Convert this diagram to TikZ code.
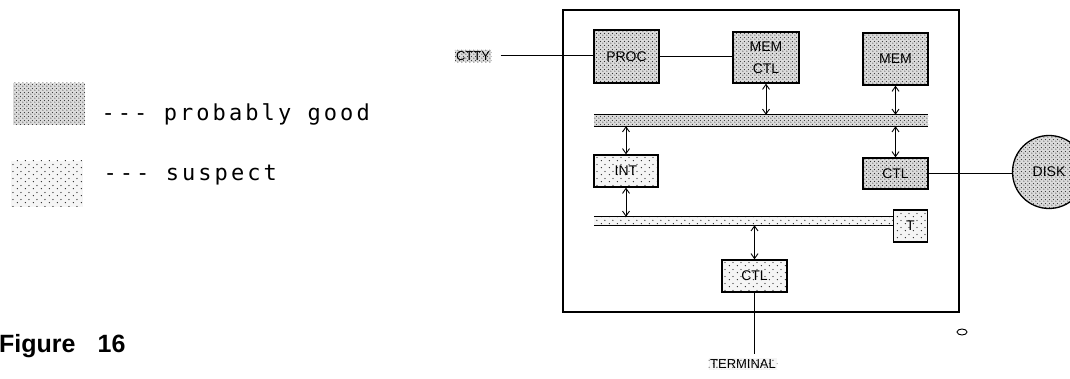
\documentclass[tikz,border=0pt]{standalone}
\usepackage{fontspec}
\setmainfont{Liberation Sans}
\newfontfamily\legendfont{DejaVu Sans Mono}[LetterSpace=14,Ligatures=TeXOff]
\usetikzlibrary{patterns,arrows.meta}
\pgfdeclarepatternformonly{densedots}{\pgfqpoint{0pt}{0pt}}{\pgfqpoint{3.6pt}{3.6pt}}{\pgfqpoint{3.6pt}{3.6pt}}{%
 \pgfpathcircle{\pgfqpoint{0.9pt}{0.9pt}}{0.62pt}%
 \pgfpathcircle{\pgfqpoint{2.7pt}{2.7pt}}{0.62pt}%
 \pgfusepath{fill}}
\pgfdeclarepatternformonly{sparsedots}{\pgfqpoint{0pt}{0pt}}{\pgfqpoint{8pt}{7pt}}{\pgfqpoint{8pt}{7pt}}{%
 \pgfpathcircle{\pgfqpoint{1.5pt}{1.5pt}}{0.75pt}%
 \pgfpathcircle{\pgfqpoint{5.5pt}{5pt}}{0.75pt}%
 \pgfusepath{fill}}
\tikzset{
  good/.style={preaction={fill=black!14}, pattern=densedots, pattern color=black!80},
  suspect/.style={preaction={fill=black!4}, pattern=sparsedots, pattern color=black!85},
  box/.style={draw, line width=1.3pt, inner sep=0pt, font=\fontsize{14}{22}\selectfont, align=center},
  dar/.style={{Straight Barb[length=5pt,width=7pt]}-{Straight Barb[length=5pt,width=7pt]}, line width=0.9pt},
  wire/.style={line width=1pt},
  busline/.style={line width=1.2pt},
  tag/.style={inner sep=1.5pt, font=\fontsize{13}{13}\selectfont},
  legendtext/.style={anchor=base west, font=\legendfont\fontsize{22}{22}\selectfont}
}
\begin{document}
\begin{tikzpicture}[x=1pt,y=-1pt]
\useasboundingbox (0,0) rectangle (1070,379);
% legend
\node[good, minimum width=72pt, minimum height=42pt, inner sep=0pt] (lgood) at (49,104) {};
\node[legendtext] (tgood) at (98,121) {--- probably good};
\node[suspect, minimum width=72pt, minimum height=46pt, inner sep=0pt] (lsus) at (47,184) {};
\node[legendtext] (tsus) at (100,181) {--- suspect};
\node[anchor=base west, inner sep=0pt, font=\bfseries\fontsize{25}{25}\selectfont] (fig) at (-1,352) {Figure\hspace{22pt}16};
% frame
\node[draw, line width=1.6pt, minimum width=396pt, minimum height=302pt, inner sep=0pt] (frame) at (761,161) {};
% boxes
\node[box, good, minimum width=65pt, minimum height=53pt] (proc) at (626.5,56.5) {PROC};
\node[box, good, minimum width=66pt, minimum height=51pt] (memctl) at (766,57.5) {MEM\\CTL};
\node[box, good, minimum width=65pt, minimum height=52pt] (mem) at (895.5,59) {MEM};
\node[good, minimum width=334pt, minimum height=11pt, inner sep=0pt] (bus1) at (761,120.5) {};
\node[box, suspect, minimum width=64pt, minimum height=32pt] (int) at (626,171) {INT};
\node[box, good, minimum width=65pt, minimum height=31pt] (ctlr) at (895.5,173.5) {CTL};
\node[suspect, minimum width=299pt, minimum height=8pt, inner sep=0pt] (bus2) at (743.5,221) {};
\node[box, suspect, minimum width=34pt, minimum height=32pt] (t) at (910.5,226) {T};
\node[box, suspect, minimum width=65pt, minimum height=32pt] (ctll) at (754.5,276) {CTL};
\node[box, good, circle, minimum size=73pt] (disk) at (1049,172) {DISK};
\node[tag, good] (ctty) at (473,56) {CTTY};
\node[tag, suspect] (term) at (743,364) {TERMINAL};
% bus edges
\draw[busline] (bus1.north west) -- (bus1.north east) (bus1.south west) -- (bus1.south east);
\draw[busline] (bus2.north west) -- (bus2.north east) (bus2.south west) -- (bus2.south east);
% wires
\draw[wire, shorten <=9pt] (ctty.east) -- (ctty.east -| proc.west);
\draw[wire] (proc.east) -- (proc.east -| memctl.west);
\draw[wire] (ctlr.east) -- (ctlr.east -| disk.west);
\draw[wire, shorten >=4pt] (ctll.south) -- (ctll.south |- term.north);
% arrows
\draw[dar] (memctl.south) -- (memctl.south |- bus1.north);
\draw[dar] (mem.south) -- (mem.south |- bus1.north);
\draw[dar] (int.north) -- (int.north |- bus1.south);
\draw[dar] (ctlr.north) -- (ctlr.north |- bus1.south);
\draw[dar] (int.south) -- (int.south |- bus2.north);
\draw[dar] (ctll.north) -- (ctll.north |- bus2.south);
% stray mark
\draw[line width=0.9pt] (962,332) ellipse (5pt and 3pt);
\end{tikzpicture}
\end{document}
